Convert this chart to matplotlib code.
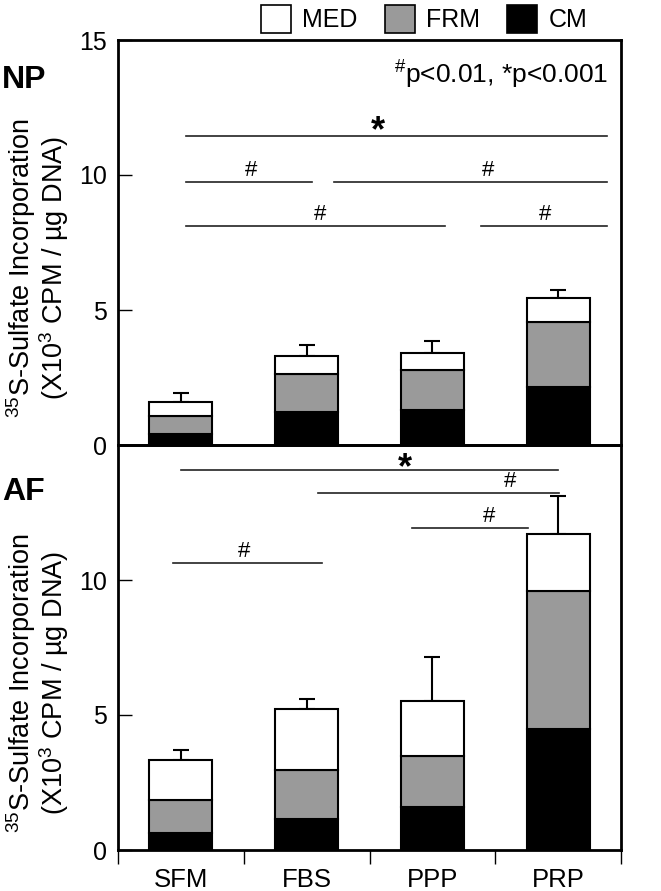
import numpy as np
import matplotlib
matplotlib.use("Agg")
import matplotlib.pyplot as plt
from matplotlib.patches import Patch

plt.rcParams['font.family'] = ['Liberation Sans', 'DejaVu Sans']
plt.rcParams['mathtext.default'] = 'regular'

# data (x10^3 CPM / ug DNA)
groups = ['SFM', 'FBS', 'PPP', 'PRP']

np_cm = [0.42, 1.22, 1.30, 2.16]
np_frm = [0.64, 1.40, 1.48, 2.41]
np_med = [0.55, 0.68, 0.63, 0.86]
np_err = [0.31, 0.39, 0.44, 0.30]

af_cm = [0.62, 1.14, 1.59, 4.49]
af_frm = [1.24, 1.82, 1.90, 5.11]
af_med = [1.46, 2.27, 2.04, 2.11]
af_err = [0.40, 0.37, 1.63, 1.41]

# significance bars: (start, end, height, mark, mark x)
np_sig = [(0.04, 3.39, 11.46, '*', 1.57),
          (0.04, 1.04, 9.74, '#', 0.56),
          (1.22, 3.39, 9.74, '#', 2.44),
          (0.04, 2.10, 8.10, '#', 1.11),
          (2.39, 3.39, 8.10, '#', 2.90)]
af_sig = [(0.0, 3.0, 14.09, '*', 1.78),
          (1.09, 3.01, 13.22, '#', 2.62),
          (1.84, 2.76, 11.94, '#', 2.45),
          (-0.06, 1.12, 10.64, '#', 0.50)]

GRAY = '#9a9a9a'
W = 661 / 100.0
H = 891 / 100.0

fig, (ax1, ax2) = plt.subplots(2, 1, figsize=(W, H), dpi=100, sharex=True)
fig.subplots_adjust(left=118 / 661, right=621 / 661, top=1 - 40 / 891,
                    bottom=1 - 850 / 891, hspace=0)

x = np.arange(len(groups))


def stack(ax, cm, frm, med, err, sig, star_off):
    cm = np.array(cm)
    frm = np.array(frm)
    med = np.array(med)
    kw = dict(width=0.5, edgecolor='black', linewidth=1.5, zorder=3)
    ax.bar(x, cm, color='black', **kw)
    ax.bar(x, frm, bottom=cm, color=GRAY, **kw)
    top = cm + frm + med
    ax.errorbar(x, top, yerr=[np.zeros(len(x)), err], fmt='none',
                ecolor='black', elinewidth=1.5, capsize=5.5, capthick=1.5,
                zorder=2)
    ax.bar(x, med, bottom=cm + frm, color='white', **kw)

    for x0, x1, h, mark, mx in sig:
        ax.plot([x0, x1], [h, h], color='#222222', lw=1.2, zorder=1)
        if mark == '*':
            ax.text(mx, h + star_off, '*', ha='center', va='center',
                    fontsize=26, fontweight='bold', zorder=5)
        else:
            ax.text(mx, h + 0.42, '#', ha='center', va='center', fontsize=16)

    ax.set_xlim(-0.5, 3.5)
    ax.set_ylim(0, 15)
    ax.patch.set_visible(False)
    for s in ax.spines.values():
        s.set_linewidth(2)
    ax.tick_params(axis='y', direction='in', length=10, width=1,
                   labelsize=18, pad=8)


stack(ax1, np_cm, np_frm, np_med, np_err, np_sig, 0.15)
stack(ax2, af_cm, af_frm, af_med, af_err, af_sig, 0.05)

ax1.set_yticks([0, 5, 10, 15])
ax2.set_yticks([0, 5, 10])

# category labels between boundary ticks
ax2.set_xticks(x)
ax2.set_xticklabels(groups, fontsize=18.5)
ax2.set_xticks(np.arange(-0.5, 4.0, 1.0), minor=True)
ax2.tick_params(axis='x', which='major', length=0, pad=13)
ax2.tick_params(axis='x', which='minor', direction='out', length=10, width=1)
ax1.tick_params(axis='x', which='both', length=0)

ax1.text(3.4, 13.7, r'$^{\#}$p<0.01, *p<0.001', ha='right', va='center',
         fontsize=19)

fig.text(2 / 661, 1 - 80 / 891, 'NP', fontsize=23, fontweight='bold',
         va='center', ha='left')
fig.text(2 / 661, 1 - 492 / 891, 'AF', fontsize=23, fontweight='bold',
         va='center', ha='left')

for yc in (268, 683):
    fig.text(21 / 661, 1 - yc / 891, r'$^{35}$S-Sulfate Incorporation',
             rotation=90, fontsize=19.5, ha='center', va='center')
    fig.text(54 / 661, 1 - yc / 891, r'(X10$^3$ CPM / µg DNA)',
             rotation=90, fontsize=19.5, ha='center', va='center')

handles = [Patch(facecolor='white', edgecolor='black', linewidth=1.2),
           Patch(facecolor=GRAY, edgecolor='black', linewidth=1.2),
           Patch(facecolor='black', edgecolor='black', linewidth=1.2)]
fig.legend(handles, ['MED', 'FRM', 'CM'], loc='center',
           bbox_to_anchor=(424 / 661, 1 - 19 / 891), ncol=3, frameon=False,
           fontsize=18, handlelength=1.2, handleheight=1.35,
           handletextpad=0.45, columnspacing=1.1)

fig.savefig('out.png', dpi=100)
